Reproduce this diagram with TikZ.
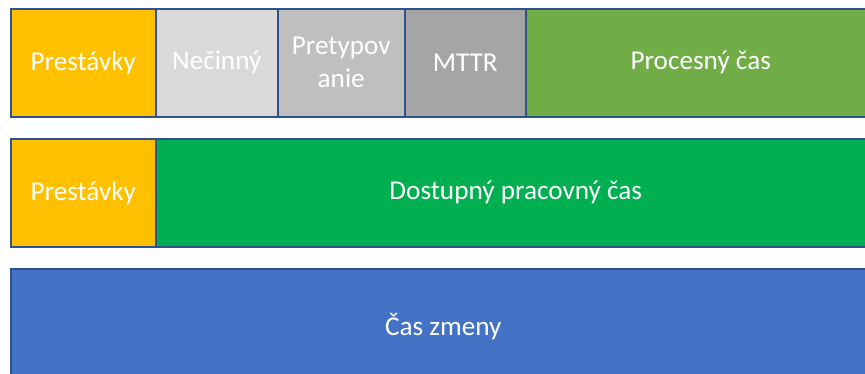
\documentclass[tikz,border=0pt]{standalone}
\usepackage{fontspec}
\setmainfont{Carlito}
\definecolor{edge}{HTML}{2F528F}
\definecolor{breakc}{HTML}{FFC000}
\definecolor{idlec}{HTML}{D9D9D9}
\definecolor{changec}{HTML}{BFBFBF}
\definecolor{mttrc}{HTML}{A5A5A5}
\definecolor{procc}{HTML}{70AD47}
\definecolor{availc}{HTML}{00B050}
\definecolor{shiftc}{HTML}{4472C4}
\tikzset{
  bar/.style={draw=edge, line width=1.5pt, rectangle, inner sep=0pt,
    anchor=north west, text=white, align=center,
    font=\fontsize{27.2}{33}\selectfont},
}
\begin{document}
\begin{tikzpicture}[x=1pt,y=-1pt]
\useasboundingbox (0,0) rectangle (865,373);
\clip (0,0) rectangle (865,373);
% top row: breakdown of the shift into losses and process time
\node[bar, fill=breakc,  minimum width=145pt, minimum height=108pt] (p1) at (10,8) {Prestávky};
\node[bar, fill=idlec,   minimum width=122pt, minimum height=108pt] (idle) at (155,8) {Nečinný};
\node[bar, fill=changec, minimum width=127pt, minimum height=108pt] (chg) at (277,8) {Pretypov\\anie};
\node[bar, fill=mttrc,   minimum width=121pt, minimum height=108pt] (mttr) at (404,8) {MTTR};
\node[bar, fill=procc,   minimum width=350pt, minimum height=108pt] (proc) at (525,8) {Procesný čas};
% middle row
\node[bar, fill=breakc,  minimum width=145pt, minimum height=108pt] (p2) at (10,138) {Prestávky};
\node[bar, fill=availc,  minimum width=720pt, minimum height=108pt] (avail) at (155,138) {Dostupný pracovný čas};
% bottom row
\node[bar, fill=shiftc,  minimum width=865pt, minimum height=115pt] (shift) at (10,268) {\raisebox{-2pt}{Čas zmeny}};
\end{tikzpicture}
\end{document}
